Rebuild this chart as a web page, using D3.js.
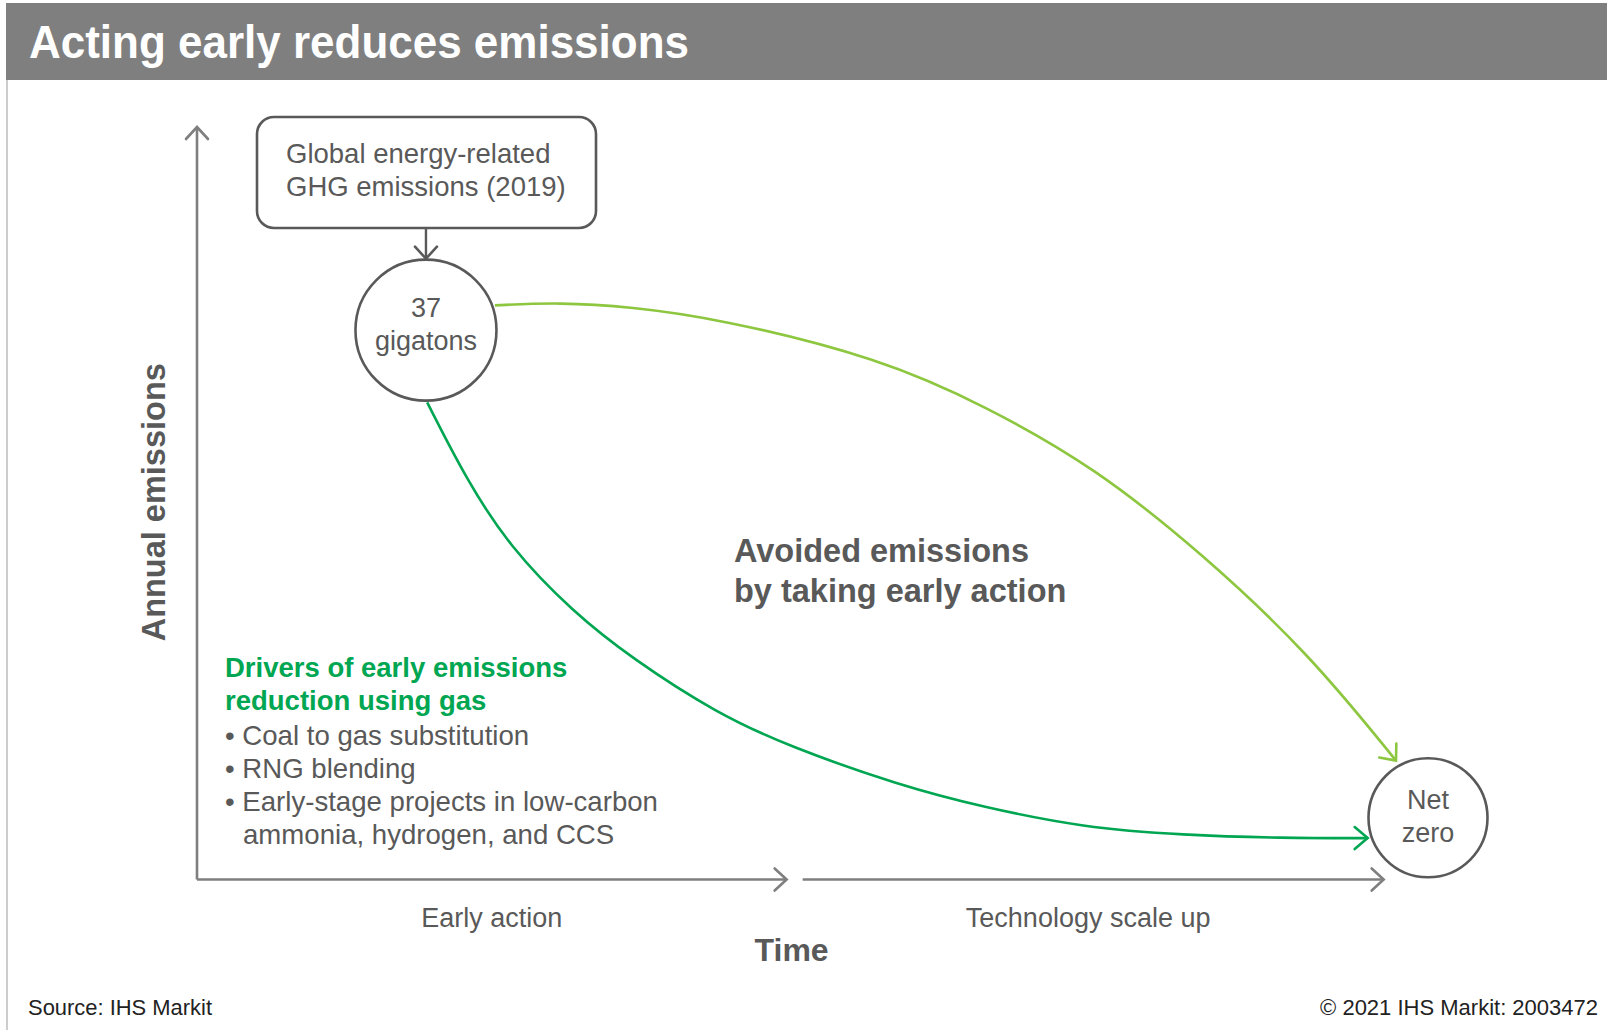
<!DOCTYPE html>
<html>
<head>
<meta charset="utf-8">
<script src="https://cdn.jsdelivr.net/npm/d3@7"></script>
<style>
  body { margin: 0; background: #fff; }
  svg text { font-family: "Liberation Sans", Arial, sans-serif; }
</style>
</head>
<body>
<div class="chart"></div>
<script>
// concept chart: time on x (0-100), annual emissions on y (0-100), arbitrary units
var titleText = "Acting early reduces emissions";
var yLabel = "Annual emissions";
var xLabel = "Time";
var phases = ["Early action", "Technology scale up"];
var phaseStart = [0, 49.2];
var phaseEnd = [47.9, 96.4];

var startNode = {x: 18.6, y: 73.0, lines: ["37", "gigatons"]};
var endNode = {x: 100, y: 8.2, lines: ["Net", "zero"]};
var boxLines = ["Global energy-related", "GHG emissions (2019)"];

// early action path (dark green)
var earlyX = [18.7, 21.9, 25.4, 30.5, 35.4, 42.2, 48.2, 57.1, 63.9, 72.0, 80.1, 88.2, 95.1];
var earlyY = [63.4, 53.1, 44.2, 35.6, 29.3, 22.1, 17.6, 12.5, 9.6, 6.9, 5.9, 5.5, 5.5];
// late action path (light green)
var lateX = [24.2, 29.5, 35.2, 42.2, 55.5, 64.2, 72.9, 81.6, 90.3, 97.4];
var lateY = [76.3, 76.7, 76.1, 74.6, 69.3, 62.8, 54.8, 43.4, 30.1, 15.8];

var avoidedLines = ["Avoided emissions", "by taking early action"];
var driversTitle = ["Drivers of early emissions", "reduction using gas"];
var drivers = ["Coal to gas substitution", "RNG blending", "Early-stage projects in low-carbon", "ammonia, hydrogen, and CCS"];
var sourceText = "Source: IHS Markit";
var copyText = "\u00a9 2021 IHS Markit: 2003472";

var W = 1607, H = 1030;
var gray = "#7f7f7f", dark = "#595959", green = "#00a651", lightGreen = "#8dc63f";

var xScale = d3.scaleLinear().domain([0, 100]).range([197, 1428]);
var yScale = d3.scaleLinear().domain([0, 100]).range([879.5, 127]);

var svg = d3.select(".chart").append("svg")
  .attr("width", W).attr("height", H);

var defs = svg.append("defs");
function chevron(id, color, len, half) {
  defs.append("marker")
    .attr("id", id)
    .attr("markerUnits", "userSpaceOnUse")
    .attr("viewBox", (-len - 3) + " " + (-half - 3) + " " + (len + 6) + " " + (2 * half + 6))
    .attr("refX", 0).attr("refY", 0)
    .attr("markerWidth", len + 6).attr("markerHeight", 2 * half + 6)
    .attr("orient", "auto")
    .append("path")
      .attr("d", "M" + (-len) + "," + (-half) + "L0,0L" + (-len) + "," + half)
      .attr("fill", "none")
      .attr("stroke", color)
      .attr("stroke-width", 2.6)
      .attr("stroke-linecap", "round");
}
chevron("arrGray", gray, 12, 11);
chevron("arrDark", dark, 12, 11);
chevron("arrGreen", green, 13, 11);
chevron("arrLight", lightGreen, 13, 11);

// header
svg.append("rect").attr("x", 6).attr("y", 3).attr("width", W - 6).attr("height", 77).attr("fill", gray);
svg.append("line").attr("x1", 7).attr("x2", 7).attr("y1", 80).attr("y2", H)
  .attr("stroke", "#bdbdbd").attr("stroke-width", 1.5);
svg.append("text")
  .attr("x", 29).attr("y", 58)
  .attr("fill", "#fff")
  .style("font-size", "47px").style("font-weight", "bold")
  .attr("textLength", 660).attr("lengthAdjust", "spacingAndGlyphs")
  .text(titleText);

// axes
svg.append("line")
  .attr("x1", xScale(0)).attr("x2", xScale(0))
  .attr("y1", yScale(0)).attr("y2", yScale(100))
  .attr("stroke", gray).attr("stroke-width", 2.6)
  .attr("marker-end", "url(#arrGray)");

svg.selectAll(".phase")
  .data(phases)
  .enter().append("line")
    .attr("class", "phase")
    .attr("x1", (d, i) => xScale(phaseStart[i]))
    .attr("x2", (d, i) => xScale(phaseEnd[i]))
    .attr("y1", yScale(0)).attr("y2", yScale(0))
    .attr("stroke", gray).attr("stroke-width", 2.6)
    .attr("marker-end", "url(#arrGray)");

svg.selectAll(".phaseLabel")
  .data(phases)
  .enter().append("text")
    .attr("class", "phaseLabel")
    .attr("x", (d, i) => xScale((phaseStart[i] + phaseEnd[i]) / 2) - (i ? 5 : 0))
    .attr("y", 927)
    .attr("text-anchor", "middle")
    .attr("fill", dark)
    .style("font-size", "27px")
    .text(d => d);

svg.append("text")
  .attr("x", xScale(48.3)).attr("y", 961)
  .attr("text-anchor", "middle").attr("fill", dark)
  .style("font-size", "32px").style("font-weight", "bold")
  .text(xLabel);

svg.append("text")
  .attr("transform", "translate(165," + (yScale(50) - 1) + ") rotate(-90)")
  .attr("text-anchor", "middle").attr("fill", dark)
  .style("font-size", "32.5px").style("font-weight", "bold")
  .text(yLabel);

// curves
var line = d3.line()
  .x(d => xScale(d[0]))
  .y(d => yScale(d[1]))
  .curve(d3.curveBasis);

svg.append("path")
  .datum(lateX.map((x, i) => [x, lateY[i]]))
  .attr("d", line)
  .attr("fill", "none").attr("stroke", lightGreen).attr("stroke-width", 2.6)
  .attr("marker-end", "url(#arrLight)");

svg.append("path")
  .datum(earlyX.map((x, i) => [x, earlyY[i]]))
  .attr("d", line)
  .attr("fill", "none").attr("stroke", green).attr("stroke-width", 2.6)
  .attr("marker-end", "url(#arrGreen)");

// nodes
var nodes = [Object.assign({r: 70.5, ty: -13}, startNode), Object.assign({r: 59.5, ty: -9}, endNode)];
var ng = svg.selectAll(".node")
  .data(nodes)
  .enter().append("g")
    .attr("class", "node")
    .attr("transform", d => "translate(" + xScale(d.x) + "," + yScale(d.y) + ")");
ng.append("circle")
  .attr("r", d => d.r)
  .attr("fill", "#fff").attr("stroke", dark).attr("stroke-width", 2.6);
ng.selectAll("text")
  .data(d => d.lines.map(t => ({t: t, ty: d.ty})))
  .enter().append("text")
    .attr("y", (d, i) => i * 33 + d.ty)
    .attr("text-anchor", "middle").attr("fill", dark)
    .style("font-size", "27px")
    .text(d => d.t);

// source box
var bx = xScale(startNode.x);
svg.append("rect")
  .attr("x", 257).attr("y", 117).attr("width", 339).attr("height", 111)
  .attr("rx", 17).attr("ry", 17)
  .attr("fill", "#fff").attr("stroke", dark).attr("stroke-width", 2.6);
svg.selectAll(".boxText")
  .data(boxLines)
  .enter().append("text")
    .attr("class", "boxText")
    .attr("x", 286).attr("y", (d, i) => 163 + i * 33)
    .attr("fill", dark)
    .style("font-size", "27.5px")
    .text(d => d);
svg.append("line")
  .attr("x1", bx).attr("x2", bx)
  .attr("y1", 228).attr("y2", yScale(startNode.y) - 70.5 - 1)
  .attr("stroke", dark).attr("stroke-width", 2.4)
  .attr("marker-end", "url(#arrDark)");

// annotations
svg.selectAll(".avoided")
  .data(avoidedLines)
  .enter().append("text")
    .attr("class", "avoided")
    .attr("x", 734).attr("y", (d, i) => 562 + i * 40)
    .attr("fill", dark)
    .style("font-size", "32.5px").style("font-weight", "bold")
    .text(d => d);

svg.selectAll(".drvTitle")
  .data(driversTitle)
  .enter().append("text")
    .attr("class", "drvTitle")
    .attr("x", 225).attr("y", (d, i) => 677 + i * 33)
    .attr("fill", green)
    .style("font-size", "27.5px").style("font-weight", "bold")
    .text(d => d);

svg.selectAll(".drv")
  .data(drivers)
  .enter().append("text")
    .attr("class", "drv")
    .attr("x", (d, i) => i < 3 ? 225 : 243)
    .attr("y", (d, i) => 745 + i * 33)
    .attr("fill", dark)
    .style("font-size", "27.6px")
    .text((d, i) => (i < 3 ? "\u2022 " : "") + d);

// footer
svg.append("text")
  .attr("x", 28).attr("y", 1015)
  .attr("fill", "#222")
  .style("font-size", "22px")
  .attr("textLength", 184).attr("lengthAdjust", "spacingAndGlyphs")
  .text(sourceText);
svg.append("text")
  .attr("x", 1598).attr("y", 1015)
  .attr("text-anchor", "end")
  .attr("fill", "#222")
  .style("font-size", "22px")
  .text(copyText);
</script>
</body>
</html>
